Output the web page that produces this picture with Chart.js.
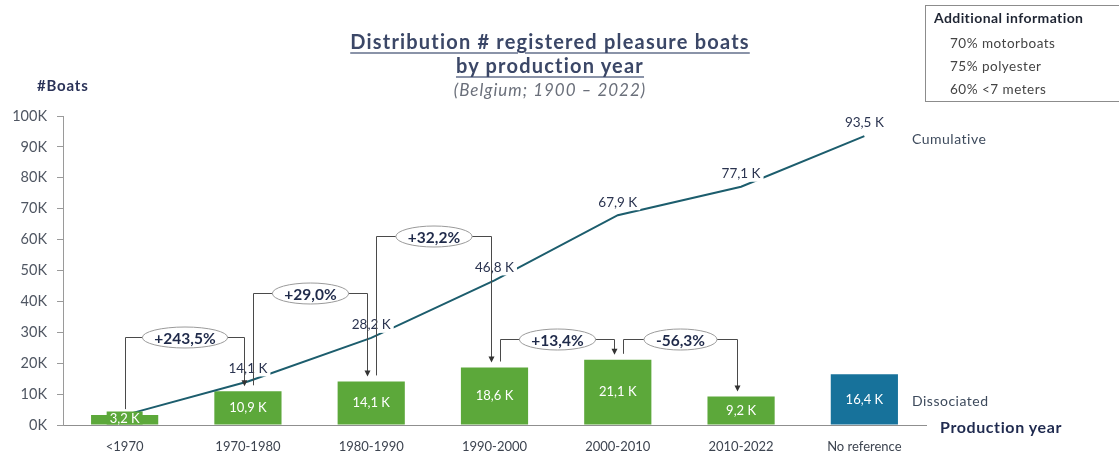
<!DOCTYPE html>
<html lang="en">
<head>
  <meta charset="UTF-8">
  <title>Registered pleasure boats by production year</title>
  <style>
    body { margin: 0; background: #fff; font-family: Lato, "Open Sans", sans-serif; }
    #wrap { position: relative; width: 1119px; height: 454px; overflow: hidden; }
    #chart { position: absolute; left: 0; top: 0; }
    .txt { position: absolute; white-space: nowrap; }
    .title { left: 0; width: 1100px; text-align: center; color: #3b4767; font-weight: bold; font-size: 20px; letter-spacing: 1.2px; text-decoration: underline; text-decoration-color: #8a93a8; text-underline-offset: 3px; }
    .sub { left: 0; width: 1100px; text-align: center; color: #6a6f7a; font-style: italic; font-size: 17px; letter-spacing: 1px; }
    .info { position: absolute; left: 925px; top: 5px; width: 200px; height: 97px; border: 1px solid #8c8c8c; box-sizing: border-box; }
    .info div { position: absolute; white-space: nowrap; color: #444; font-size: 13.5px; letter-spacing: 0.5px; }
  </style>
</head>
<body>
<div id="wrap">
  <canvas id="chart" width="1119" height="454"></canvas>
  <div class="txt title" style="top:29px">Distribution # registered pleasure boats</div>
  <div class="txt title" style="top:53px">by production year</div>
  <div class="txt sub" style="top:79px">(Belgium; 1900 – 2022)</div>
  <div class="txt" style="left:37px; top:76px; font-weight:bold; font-size:15px; letter-spacing:0.8px; color:#2a3258">#Boats</div>
  <div class="txt" style="left:912px; top:130px; font-size:14px; letter-spacing:0.5px; color:#3d4a5c">Cumulative</div>
  <div class="txt" style="left:912px; top:392px; font-size:14px; letter-spacing:0.5px; color:#3d4a5c">Dissociated</div>
  <div class="txt" style="left:940px; top:417px; font-weight:bold; font-size:16px; letter-spacing:0.6px; color:#1f2a4f">Production year</div>
  <div class="info">
    <div style="left:8px; top:3px; font-weight:bold; font-size:14px; letter-spacing:0.4px; color:#1f2533">Additional information</div>
    <div style="left:24px; top:29px">70% motorboats</div>
    <div style="left:24px; top:52px">75% polyester</div>
    <div style="left:24px; top:75px">60% &lt;7 meters</div>
  </div>
</div>

<script src="https://cdn.jsdelivr.net/npm/chart.js"></script>
<script>
  // values in thousands of boats
  const categories = ['<1970', '1970-1980', '1980-1990', '1990-2000', '2000-2010', '2010-2022', 'No reference'];
  const boatsPerPeriod = [3.2, 10.9, 14.1, 18.6, 21.1, 9.2, 16.4];
  const cumulativeBoats = [3.2, 14.1, 28.2, 46.8, 67.9, 77.1, 93.5];
  const changeLabels = ['+243,5%', '+29,0%', '+32,2%', '+13,4%', '-56,3%'];
  const yTickValues = [0, 10, 20, 30, 40, 50, 60, 70, 80, 90, 100];

  // height of each change bracket, in K on the y scale
  const bracketLevels = [28.6, 42.6, 61.2, 27.7, 27.7];

  const green = '#5ca83a';
  const blue = '#17729b';
  const barColors = categories.map((c, i) => i === categories.length - 1 ? blue : green);

  const fmtK = v => v.toFixed(1).replace('.', ',') + ' K';

  const annotate = {
    id: 'annotate',
    afterDatasetsDraw(chart) {
      const ctx = chart.ctx;
      const xs = chart.scales.x, ys = chart.scales.y;
      const lineMeta = chart.getDatasetMeta(0);
      const barMeta = chart.getDatasetMeta(1);
      ctx.save();

      // values inside bars (small bars get a box of their own colour)
      ctx.font = '13px Lato';
      ctx.textAlign = 'center';
      ctx.textBaseline = 'middle';
      barMeta.data.forEach((bar, i) => {
        const t = fmtK(boatsPerPeriod[i]);
        const small = bar.base - bar.y < 15;
        if (small) {
          const w = ctx.measureText(t).width + 6;
          ctx.fillStyle = barColors[i];
          ctx.fillRect(bar.x - w / 2, bar.base - 13, w, 13);
        }
        ctx.fillStyle = '#ffffff';
        ctx.fillText(t, bar.x, small ? bar.base - 6 : (bar.y + bar.base) / 2);
      });

      // cumulative labels with white background
      ctx.font = '13.5px Lato';
      lineMeta.data.forEach((pt, i) => {
        if (i === 0) return;
        const t = fmtK(cumulativeBoats[i]);
        const w = ctx.measureText(t).width + 6;
        ctx.fillStyle = '#ffffff';
        ctx.fillRect(pt.x - w / 2, pt.y - 21, w, 16);
        ctx.fillStyle = '#2b3450';
        ctx.fillText(t, pt.x, pt.y - 13);
      });

      // change brackets
      ctx.lineWidth = 1;
      for (let i = 0; i < changeLabels.length; i++) {
        const x0 = Math.round(xs.getPixelForValue(i) + (i ? 5 : 0)) + 0.5;
        const x1 = Math.round(xs.getPixelForValue(i + 1) - 4) + 0.5;
        const y0 = ys.getPixelForValue(boatsPerPeriod[i]) - 6;
        const y1 = ys.getPixelForValue(boatsPerPeriod[i + 1]) - 6;
        const yl = Math.round(ys.getPixelForValue(bracketLevels[i])) + 0.5;
        ctx.strokeStyle = '#4a4a4a';
        ctx.beginPath();
        ctx.moveTo(x0, y0);
        ctx.lineTo(x0, yl);
        ctx.lineTo(x1, yl);
        ctx.lineTo(x1, y1 - 4);
        ctx.stroke();
        ctx.beginPath();
        ctx.moveTo(x1, y1 + 1);
        ctx.lineTo(x1 - 3, y1 - 5);
        ctx.lineTo(x1 + 3, y1 - 5);
        ctx.closePath();
        ctx.fillStyle = '#333';
        ctx.fill();

        ctx.font = 'bold 15.5px Lato';
        const t = changeLabels[i];
        const cx = (x0 + x1) / 2;
        const rx = ctx.measureText(t).width / 2 + 12;
        ctx.beginPath();
        ctx.ellipse(cx, yl, rx, 10.5, 0, 0, Math.PI * 2);
        ctx.fillStyle = '#ffffff';
        ctx.fill();
        ctx.strokeStyle = '#9a9a9a';
        ctx.stroke();
        ctx.fillStyle = '#1f2a4a';
        ctx.fillText(t, cx, yl + 1);
      }
      ctx.restore();
    }
  };

  new Chart(document.getElementById('chart'), {
    data: {
      labels: categories,
      datasets: [
        {
          type: 'line',
          label: 'Cumulative',
          data: cumulativeBoats,
          borderColor: '#1c5d6d',
          borderWidth: 2,
          pointRadius: 0,
          tension: 0,
          order: 0
        },
        {
          type: 'bar',
          label: 'Dissociated',
          data: boatsPerPeriod,
          backgroundColor: barColors,
          barPercentage: 0.545,
          categoryPercentage: 1,
          order: 1
        }
      ]
    },
    options: {
      responsive: false,
      animation: false,
      layout: { padding: { top: 116, right: 193, left: 0, bottom: 0 } },
      plugins: { legend: { display: false }, tooltip: { enabled: false } },
      scales: {
        x: {
          grid: { display: false, drawTicks: false },
          border: { display: true, color: '#8f8f8f', width: 1 },
          ticks: { color: '#3d4450', font: { family: 'Lato', size: 13 }, padding: 14, maxRotation: 0 },
          afterFit: s => { s.height = 29; }
        },
        y: {
          min: 0,
          max: 100,
          afterBuildTicks: s => { s.ticks = yTickValues.map(v => ({ value: v })); },
          grid: { drawOnChartArea: false, drawTicks: true, tickLength: 6, color: '#9a9a9a' },
          border: { display: true, color: '#9a9a9a', width: 1 },
          ticks: { color: '#4f5662', font: { family: 'Lato', size: 14.5 }, padding: 10, callback: v => v + 'K' },
          afterFit: s => { s.width = 63; }
        }
      }
    },
    plugins: [annotate]
  });
</script>
</body>
</html>
